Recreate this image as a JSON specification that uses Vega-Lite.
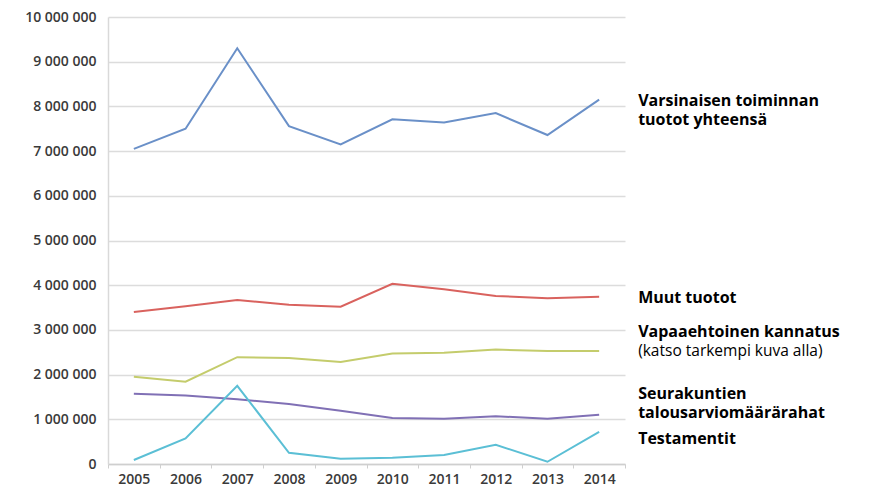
{
  "$schema": "https://vega.github.io/schema/vega-lite/v6.json",
  "width": 517,
  "height": 447,
  "autosize": {"type": "none"},
  "padding": {"left": 108, "top": 17, "right": 254, "bottom": 28},
  "background": "white",
  "config": {
    "view": {"stroke": null},
    "font": "Open Sans"
  },
  "datasets": {
    "series": [
      {"year": "2005", "sarja": "Varsinaisen toiminnan tuotot yhteensä", "arvo": 7050000},
      {"year": "2006", "sarja": "Varsinaisen toiminnan tuotot yhteensä", "arvo": 7500000},
      {"year": "2007", "sarja": "Varsinaisen toiminnan tuotot yhteensä", "arvo": 9300000},
      {"year": "2008", "sarja": "Varsinaisen toiminnan tuotot yhteensä", "arvo": 7560000},
      {"year": "2009", "sarja": "Varsinaisen toiminnan tuotot yhteensä", "arvo": 7150000},
      {"year": "2010", "sarja": "Varsinaisen toiminnan tuotot yhteensä", "arvo": 7710000},
      {"year": "2011", "sarja": "Varsinaisen toiminnan tuotot yhteensä", "arvo": 7640000},
      {"year": "2012", "sarja": "Varsinaisen toiminnan tuotot yhteensä", "arvo": 7850000},
      {"year": "2013", "sarja": "Varsinaisen toiminnan tuotot yhteensä", "arvo": 7360000},
      {"year": "2014", "sarja": "Varsinaisen toiminnan tuotot yhteensä", "arvo": 8150000},
      {"year": "2005", "sarja": "Muut tuotot", "arvo": 3400000},
      {"year": "2006", "sarja": "Muut tuotot", "arvo": 3530000},
      {"year": "2007", "sarja": "Muut tuotot", "arvo": 3670000},
      {"year": "2008", "sarja": "Muut tuotot", "arvo": 3560000},
      {"year": "2009", "sarja": "Muut tuotot", "arvo": 3520000},
      {"year": "2010", "sarja": "Muut tuotot", "arvo": 4030000},
      {"year": "2011", "sarja": "Muut tuotot", "arvo": 3910000},
      {"year": "2012", "sarja": "Muut tuotot", "arvo": 3760000},
      {"year": "2013", "sarja": "Muut tuotot", "arvo": 3710000},
      {"year": "2014", "sarja": "Muut tuotot", "arvo": 3740000},
      {"year": "2005", "sarja": "Vapaaehtoinen kannatus", "arvo": 1950000},
      {"year": "2006", "sarja": "Vapaaehtoinen kannatus", "arvo": 1840000},
      {"year": "2007", "sarja": "Vapaaehtoinen kannatus", "arvo": 2390000},
      {"year": "2008", "sarja": "Vapaaehtoinen kannatus", "arvo": 2370000},
      {"year": "2009", "sarja": "Vapaaehtoinen kannatus", "arvo": 2280000},
      {"year": "2010", "sarja": "Vapaaehtoinen kannatus", "arvo": 2470000},
      {"year": "2011", "sarja": "Vapaaehtoinen kannatus", "arvo": 2490000},
      {"year": "2012", "sarja": "Vapaaehtoinen kannatus", "arvo": 2560000},
      {"year": "2013", "sarja": "Vapaaehtoinen kannatus", "arvo": 2530000},
      {"year": "2014", "sarja": "Vapaaehtoinen kannatus", "arvo": 2530000},
      {"year": "2005", "sarja": "Seurakuntien talousarviomäärärahat", "arvo": 1570000},
      {"year": "2006", "sarja": "Seurakuntien talousarviomäärärahat", "arvo": 1530000},
      {"year": "2007", "sarja": "Seurakuntien talousarviomäärärahat", "arvo": 1450000},
      {"year": "2008", "sarja": "Seurakuntien talousarviomäärärahat", "arvo": 1340000},
      {"year": "2009", "sarja": "Seurakuntien talousarviomäärärahat", "arvo": 1190000},
      {"year": "2010", "sarja": "Seurakuntien talousarviomäärärahat", "arvo": 1030000},
      {"year": "2011", "sarja": "Seurakuntien talousarviomäärärahat", "arvo": 1010000},
      {"year": "2012", "sarja": "Seurakuntien talousarviomäärärahat", "arvo": 1070000},
      {"year": "2013", "sarja": "Seurakuntien talousarviomäärärahat", "arvo": 1010000},
      {"year": "2014", "sarja": "Seurakuntien talousarviomäärärahat", "arvo": 1100000},
      {"year": "2005", "sarja": "Testamentit", "arvo": 90000},
      {"year": "2006", "sarja": "Testamentit", "arvo": 570000},
      {"year": "2007", "sarja": "Testamentit", "arvo": 1750000},
      {"year": "2008", "sarja": "Testamentit", "arvo": 250000},
      {"year": "2009", "sarja": "Testamentit", "arvo": 120000},
      {"year": "2010", "sarja": "Testamentit", "arvo": 140000},
      {"year": "2011", "sarja": "Testamentit", "arvo": 200000},
      {"year": "2012", "sarja": "Testamentit", "arvo": 430000},
      {"year": "2013", "sarja": "Testamentit", "arvo": 50000},
      {"year": "2014", "sarja": "Testamentit", "arvo": 720000}
    ],
    "labels": [
      {"year": "2014", "teksti": "Varsinaisen toiminnan", "arvo": 8000000, "paino": "bold"},
      {"year": "2014", "teksti": "tuotot yhteensä", "arvo": 7580000, "paino": "bold"},
      {"year": "2014", "teksti": "Muut tuotot", "arvo": 3600000, "paino": "bold"},
      {"year": "2014", "teksti": "Vapaaehtoinen kannatus", "arvo": 2830000, "paino": "bold"},
      {"year": "2014", "teksti": "(katso tarkempi kuva alla)", "arvo": 2410000, "paino": "normal"},
      {"year": "2014", "teksti": "Seurakuntien", "arvo": 1450000, "paino": "bold"},
      {"year": "2014", "teksti": "talousarviomäärärahat", "arvo": 1020000, "paino": "bold"},
      {"year": "2014", "teksti": "Testamentit", "arvo": 440000, "paino": "bold"}
    ]
  },
  "layer": [
    {
      "data": {"name": "series"},
      "mark": {"type": "line", "strokeWidth": 2},
      "encoding": {
        "x": {
          "field": "year", "type": "ordinal", "bandPosition": 0.5,
          "scale": {"type": "band", "paddingInner": 0, "paddingOuter": 0},
          "axis": {
            "title": null, "labelAngle": 0, "labelFont": "Open Sans", "labelFontSize": 14,
            "labelFontWeight": 600, "labelColor": "#3a3a3a", "labelPadding": 4,
            "domainColor": "#cfcfcf", "domainWidth": 1.5, "tickBand": "extent",
            "tickColor": "#cfcfcf", "tickSize": 4, "grid": false
          }
        },
        "y": {
          "field": "arvo", "type": "quantitative",
          "scale": {"domain": [0, 10000000], "nice": false},
          "axis": {
            "title": null, "values": [0,1000000,2000000,3000000,4000000,5000000,6000000,7000000,8000000,9000000,10000000],
            "labelExpr": "replace(format(datum.value, ','), /,/g, ' ')",
            "labelOverlap": false,
            "labelFont": "Open Sans", "labelFontSize": 14, "labelFontWeight": 600, "labelColor": "#3a3a3a",
            "labelPadding": 12, "ticks": false, "domain": true, "domainColor": "#d9d9d9", "domainWidth": 1.5,
            "gridColor": "#dcdcdc", "gridWidth": 1.5
          }
        },
        "color": {
          "field": "sarja", "type": "nominal", "legend": null,
          "scale": {
            "domain": ["Varsinaisen toiminnan tuotot yhteensä", "Muut tuotot", "Vapaaehtoinen kannatus", "Seurakuntien talousarviomäärärahat", "Testamentit"],
            "range": ["#6a90c8", "#d9625e", "#c4cc6c", "#8070b5", "#5bbfd5"]
          }
        }
      }
    },
    {
      "data": {"name": "labels"},
      "transform": [{"filter": "datum.paino == 'bold'"}],
      "mark": {"type": "text", "align": "left", "baseline": "alphabetic", "dx": 39, "fontSize": 16, "fontWeight": "bold", "font": "Open Sans", "color": "#000"},
      "encoding": {
        "x": {"field": "year", "type": "ordinal", "bandPosition": 0.5},
        "y": {"field": "arvo", "type": "quantitative"},
        "text": {"field": "teksti"}
      }
    },
    {
      "data": {"name": "labels"},
      "transform": [{"filter": "datum.paino == 'normal'"}],
      "mark": {"type": "text", "align": "left", "baseline": "alphabetic", "dx": 39, "fontSize": 15.5, "fontWeight": "normal", "font": "Open Sans", "color": "#000"},
      "encoding": {
        "x": {"field": "year", "type": "ordinal", "bandPosition": 0.5},
        "y": {"field": "arvo", "type": "quantitative"},
        "text": {"field": "teksti"}
      }
    }
  ]
}
